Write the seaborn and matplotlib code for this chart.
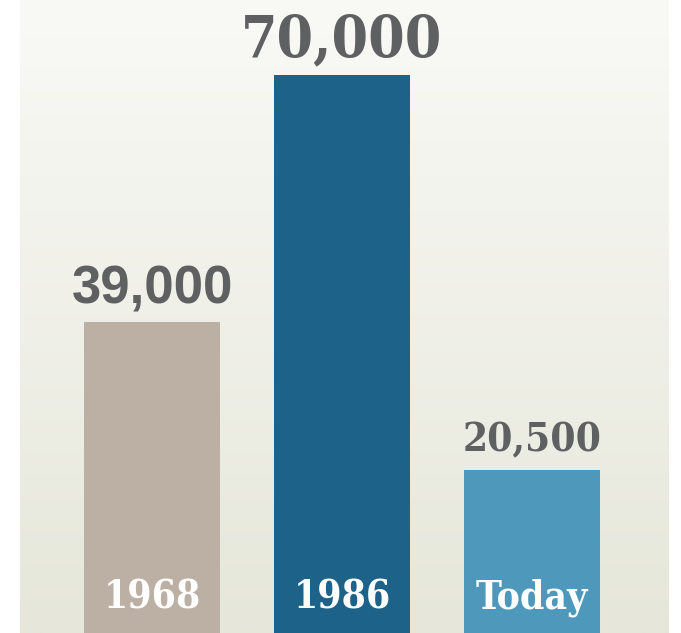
import numpy as np
import pandas as pd
import seaborn as sns
import matplotlib.pyplot as plt
from matplotlib.colors import LinearSegmentedColormap

# données
periods = ["1968", "1986", "Today"]
counts = [39000, 70000, 20500]
value_labels = ["39,000", "70,000", "20,500"]
bar_colors = ["#bcb0a5", "#1d6389", "#4e98bb"]

df = pd.DataFrame({"period": periods, "count": counts})

sns.set_theme(style="white")
plt.rcParams["font.family"] = ["DejaVu Serif", "DejaVu Sans"]

fig = plt.figure(figsize=(6.81, 6.33), dpi=100)
fig.patch.set_facecolor("white")
ax = fig.add_axes([20 / 681, 0, 649 / 681, 1])

# fond en dégradé
bg = LinearSegmentedColormap.from_list("bg", ["#e6e7da", "#f9f9f6"])
ax.imshow(np.linspace(0, 1, 256).reshape(-1, 1), cmap=bg, aspect="auto",
          extent=[-0.695, 2.721, 0, 79409], origin="lower", zorder=0)

sns.barplot(data=df, x="period", y="count", hue="period",
            palette=bar_colors, width=0.716, dodge=False, legend=False,
            saturation=1, linewidth=0, ax=ax, zorder=2)

ax.set_xlim(-0.695, 2.721)
ax.set_ylim(0, 79409)
ax.axis("off")

grey = "#5f6062"
sizes = [38, 42, 29]
fams = [["Liberation Sans", "DejaVu Sans"], ["DejaVu Serif"], ["DejaVu Serif"]]
for i, (v, lab) in enumerate(zip(counts, value_labels)):
    ax.text(i, v + 2300, lab, ha="center", va="baseline", color=grey,
            fontsize=sizes[i], fontweight="bold", family=fams[i],
            fontstretch="condensed", zorder=3)
    ax.text(i, 3100, periods[i], ha="center", va="baseline", color="white",
            fontsize=28, fontweight="bold", family=["DejaVu Serif"],
            fontstretch="condensed", zorder=3)

fig.savefig("out.png", dpi=100, facecolor="white")
